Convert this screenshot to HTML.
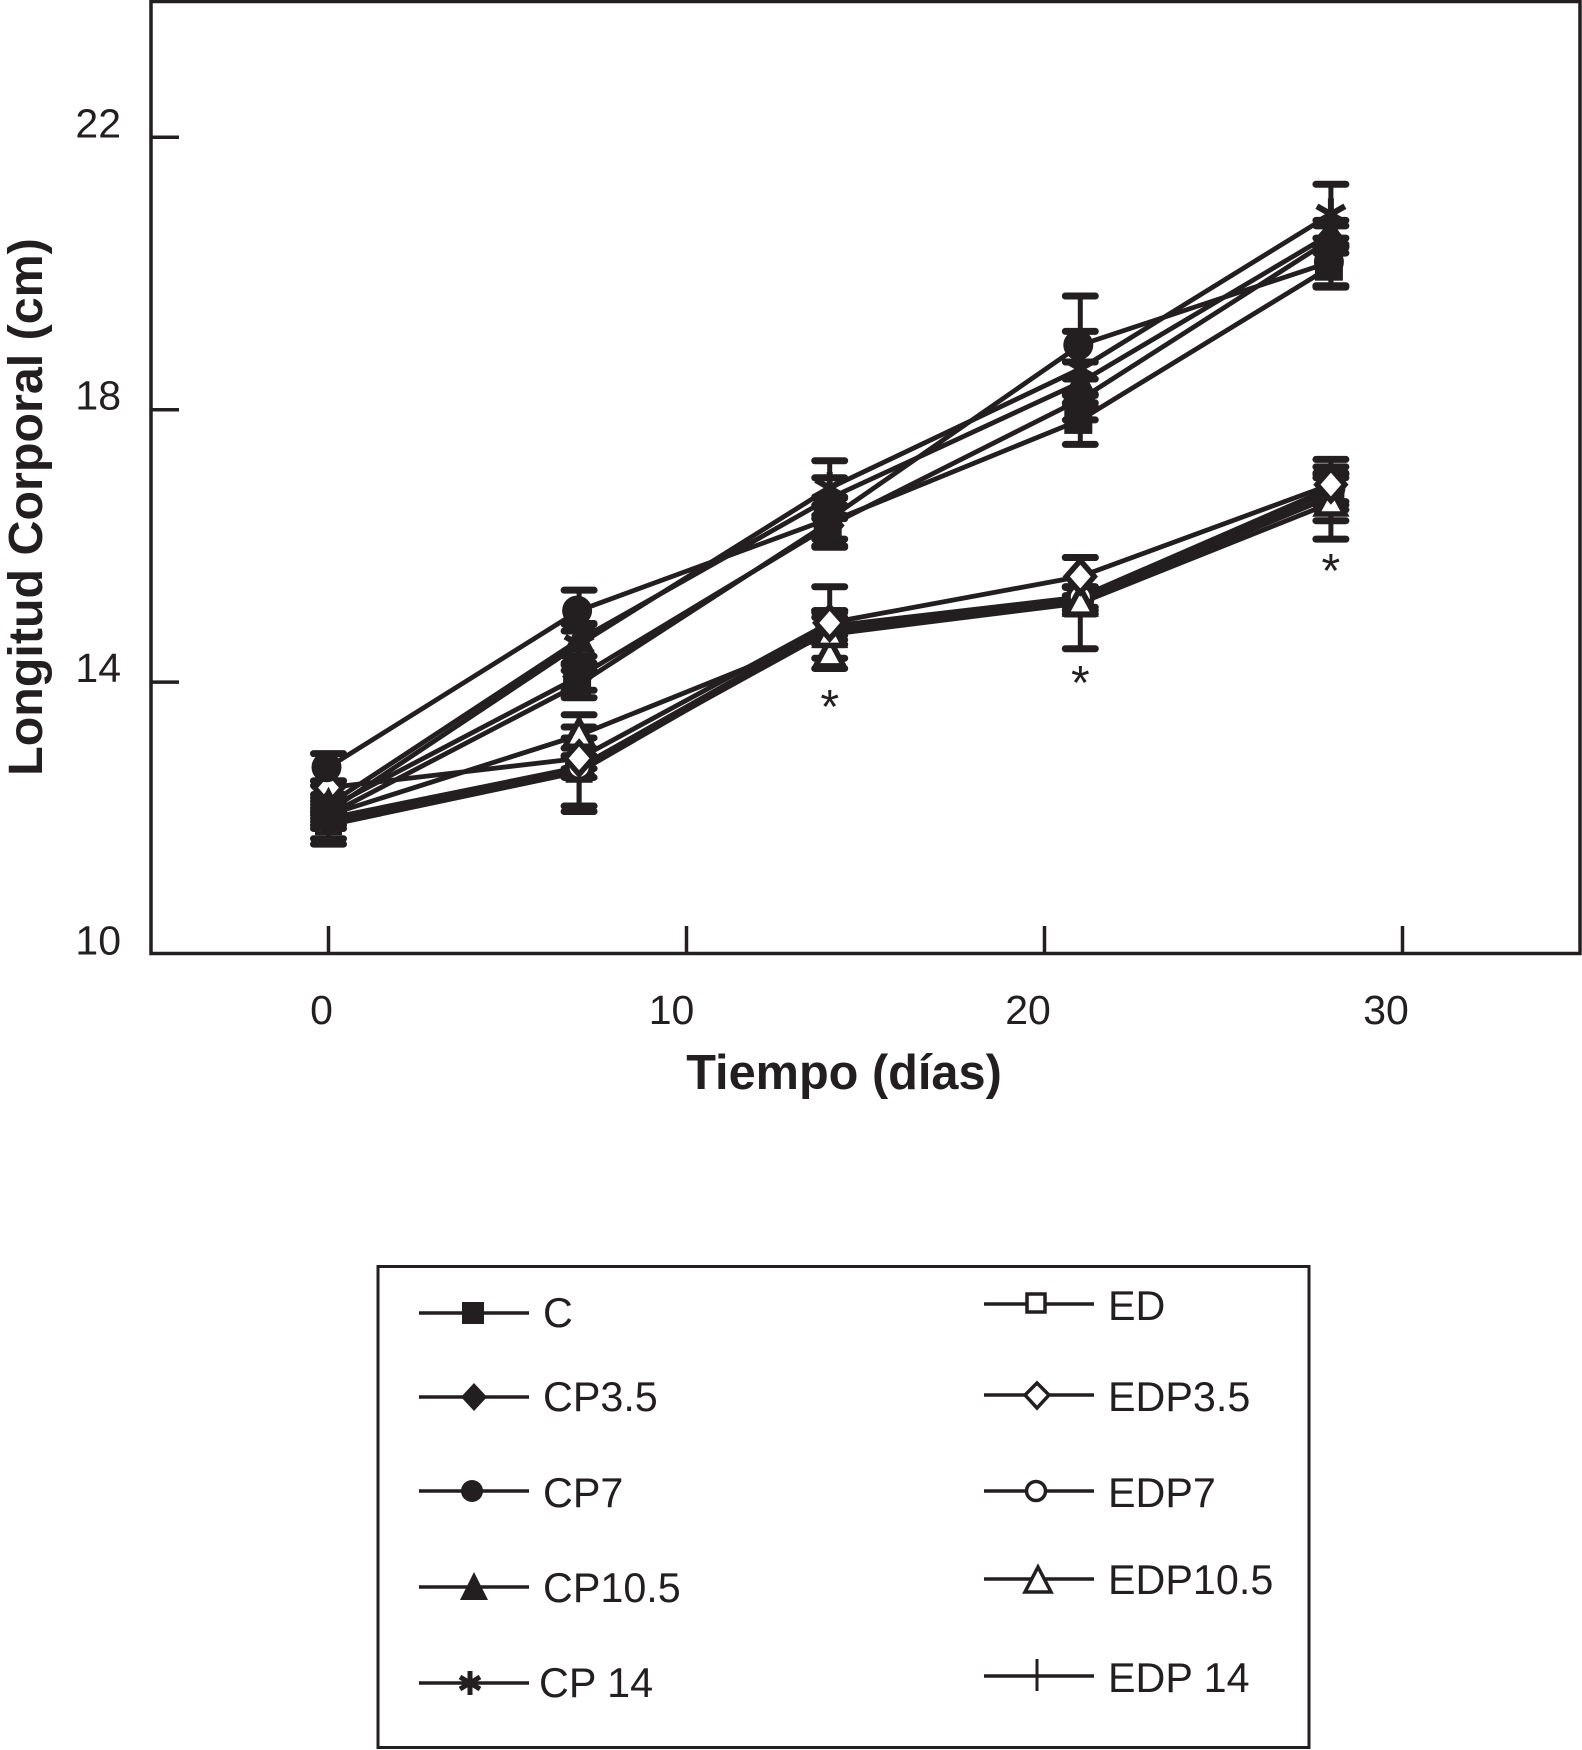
<!DOCTYPE html>
<html lang="es">
<head>
<meta charset="utf-8">
<title>Longitud corporal</title>
<style>
html,body{margin:0;padding:0;background:#fff;}
svg{display:block;}
text{font-family:"Liberation Sans",sans-serif;fill:#231f20;}
</style>
</head>
<body>
<svg id="chart" width="1582" height="1750" viewBox="0 0 1582 1750" xmlns="http://www.w3.org/2000/svg">
  <rect x="151" y="1.5" width="1429" height="952" fill="#fff" stroke="#231f20" stroke-width="3.5"/>
  <g id="ticks"></g>
  <g id="bars"></g>
  <g id="lines"></g>
  <g id="marks"></g>
  <g id="sig"></g>
  <text x="844" y="1089" text-anchor="middle" font-size="48.7" font-weight="bold">Tiempo (días)</text>
  <text transform="translate(42,507) rotate(-90)" text-anchor="middle" font-size="48.4" font-weight="bold">Longitud Corporal (cm)</text>

  <g stroke-linejoin="miter">
    <rect x="378" y="1266.5" width="931" height="481" fill="#fff" stroke="#231f20" stroke-width="3"/>

    <g>
      <line x1="419" y1="1313" x2="529" y2="1313" stroke="#231f20" stroke-width="3.5"/>
      <rect x="462" y="1302" width="22" height="22" fill="#231f20"/>
      <text x="543" y="1327" font-size="41.3">C</text>
    </g>
    <g>
      <line x1="419" y1="1397" x2="529" y2="1397" stroke="#231f20" stroke-width="3.5"/>
      <polygon points="474,1383 487,1397 474,1411 461,1397" fill="#231f20"/>
      <text x="543" y="1411" font-size="41.3">CP3.5</text>
    </g>
    <g>
      <line x1="419" y1="1491" x2="529" y2="1491" stroke="#231f20" stroke-width="3.5"/>
      <circle cx="472" cy="1491" r="11" fill="#231f20"/>
      <text x="543" y="1507" font-size="41.3">CP7</text>
    </g>
    <g>
      <line x1="419" y1="1587" x2="529" y2="1587" stroke="#231f20" stroke-width="3.5"/>
      <polygon points="474,1572 488,1600 460,1600" fill="#231f20"/>
      <text x="543" y="1602" font-size="41.3">CP10.5</text>
    </g>
    <g>
      <line x1="419" y1="1683" x2="529" y2="1683" stroke="#231f20" stroke-width="3.5"/>
      <g stroke="#231f20" stroke-width="5">
        <line x1="470" y1="1671" x2="470" y2="1695"/>
        <line x1="460" y1="1677" x2="480" y2="1689"/>
        <line x1="460" y1="1689" x2="480" y2="1677"/>
      </g>
      <text x="539" y="1697" font-size="41.3">CP 14</text>
    </g>

    <g>
      <line x1="984" y1="1304" x2="1094" y2="1304" stroke="#231f20" stroke-width="3.5"/>
      <rect x="1027" y="1294" width="18" height="18" fill="#fff" stroke="#231f20" stroke-width="3.5"/>
      <text x="1108" y="1320" font-size="41.3">ED</text>
    </g>
    <g>
      <line x1="984" y1="1395" x2="1094" y2="1395" stroke="#231f20" stroke-width="3.5"/>
      <polygon points="1037,1383 1049,1395 1037,1408 1025,1395" fill="#fff" stroke="#231f20" stroke-width="3.5"/>
      <text x="1108" y="1411" font-size="41.3">EDP3.5</text>
    </g>
    <g>
      <line x1="984" y1="1491" x2="1094" y2="1491" stroke="#231f20" stroke-width="3.5"/>
      <circle cx="1036" cy="1491" r="9.5" fill="#fff" stroke="#231f20" stroke-width="3.5"/>
      <text x="1108" y="1507" font-size="41.3">EDP7</text>
    </g>
    <g>
      <line x1="984" y1="1579" x2="1094" y2="1579" stroke="#231f20" stroke-width="3.5"/>
      <polygon points="1038,1567 1051,1592 1025,1592" fill="#fff" stroke="#231f20" stroke-width="3.5"/>
      <text x="1108" y="1594" font-size="41.3">EDP10.5</text>
    </g>
    <g>
      <line x1="984" y1="1676" x2="1094" y2="1676" stroke="#231f20" stroke-width="3.5"/>
      <line x1="1037" y1="1659" x2="1037" y2="1691" stroke="#231f20" stroke-width="3"/>
      <text x="1108" y="1692" font-size="41.3">EDP 14</text>
    </g>
  </g>
</svg>

<script>
const days = [0, 7, 14, 21, 28];
const xTicks = [0, 10, 20, 30];
const yTicks = [10, 14, 18, 22];

const edp14Values = [11.9, 12.68, 14.8, 15.2, 16.72];
const edValues = [11.95, 12.72, 14.75, 15.22, 16.8];
const edp7Values = [12.0, 12.75, 14.82, 15.25, 16.85];
const edp105Values = [12.05, 13.22, 14.7, 15.16, 16.63];
const edp35Values = [12.45, 12.88, 14.87, 15.55, 16.9];
const cp14Values = [12.1, 14.55, 16.85, 18.6, 20.87];
const cp105Values = [12.2, 14.62, 16.7, 18.4, 20.58];
const cp7Values = [12.75, 15.05, 16.4, 18.95, 20.17];
const cp35Values = [12.15, 14.08, 16.3, 18.15, 20.5];
const cValues = [12.05, 13.97, 16.35, 17.85, 20.1];

const secondTriangleDays = [7, 14];
const secondTriangleValues = [12.78, 14.4];

const edp14Errors = [0.2, 0.5, 0.6, 0.2, 0.35];
const edErrors = [0.1, 0.62, 0.2, 0.17, 0.2];
const edp7Errors = [0.1, 0.15, 0.2, 0.15, 0.2];
const edp105Errors = [0.1, 0.3, 0.35, 0.67, 0.53];
const edp35Errors = [0.1, 0.15, 0.18, 0.28, 0.37];
const cp14Errors = [0.1, 0.3, 0.4, 0.55, 0.44];
const cp105Errors = [0.1, 0.24, 0.3, 0.3, 0.2];
const cp7Errors = [0.2, 0.3, 0.3, 0.72, 0.35];
const cp35Errors = [0.1, 0.2, 0.3, 0.3, 0.2];
const cErrors = [0.43, 0.2, 0.37, 0.36, 0.3];

const sigDays = [14, 21, 28];
const sigValues = [13.4, 13.75, 15.4];

const INK = '#231f20';
const NS = 'http://www.w3.org/2000/svg';
function xScale(d) { return 328.5 + d * 35.8; }
function yScale(v) { return 954.5 - (v - 10) * 68.1; }
function make(tag, attrs, parent) {
  const el = document.createElementNS(NS, tag);
  for (const k in attrs) el.setAttribute(k, attrs[k]);
  parent.appendChild(el);
  return el;
}

const ticksG = document.getElementById('ticks');
xTicks.forEach(function (t) {
  const tick = make('line', { x1: xScale(t), x2: xScale(t), y1: 926, y2: 953, stroke: INK, 'stroke-width': 3.5 }, ticksG);
  
  
  const label = make('text', { x: xScale(t) - (t === 0 ? 7 : (t === 10 ? 15 : 16.5)), y: 1024, 'text-anchor': 'middle', 'font-size': 41 }, ticksG);
  
  
  label.textContent = t;
});
yTicks.forEach(function (t) {
  if (t !== 10) {
    const tick = make('line', { x1: 151, x2: 179, y1: yScale(t), y2: yScale(t), stroke: INK, 'stroke-width': 3.5 }, ticksG);
    
    
  }
  const label = make('text', { x: 121, y: yScale(t), 'text-anchor': 'end', 'font-size': 41 }, ticksG);
  
  
  label.textContent = t;
});

function drawMarker(kind, cx, cy, parent) {
  let m;
  if (kind === 'square') {
    m = make('rect', { x: cx - 16, y: cy - 14, width: 28, height: 28, fill: INK }, parent);
  } else if (kind === 'diamond') {
    m = make('polygon', { points: [cx - 1, cy - 18, cx + 15, cy, cx - 1, cy + 18, cx - 17, cy].join(' '), fill: INK }, parent);
  } else if (kind === 'circle') {
    m = make('circle', { cx: cx - 2, cy: cy, r: 15, fill: INK }, parent);
  } else if (kind === 'triangle') {
    m = make('polygon', { points: [cx, cy - 18, cx + 16, cy + 13, cx - 16, cy + 13].join(' '), fill: INK }, parent);
  } else if (kind === 'star') {
    m = make('g', { stroke: INK, 'stroke-width': 6 }, parent);
    make('line', { x1: cx, y1: cy - 16, x2: cx, y2: cy + 16 }, m);
    make('line', { x1: cx - 14, y1: cy - 8, x2: cx + 14, y2: cy + 8 }, m);
    make('line', { x1: cx - 14, y1: cy + 8, x2: cx + 14, y2: cy - 8 }, m);
  } else if (kind === 'open-square') {
    m = make('rect', { x: cx - 11, y: cy - 11, width: 22, height: 22, fill: '#fff', stroke: INK, 'stroke-width': 5 }, parent);
  } else if (kind === 'open-diamond') {
    m = make('polygon', { points: [cx, cy - 16, cx + 14, cy, cx, cy + 16, cx - 14, cy].join(' '), fill: '#fff', stroke: INK, 'stroke-width': 5.5 }, parent);
  } else if (kind === 'open-circle') {
    m = make('circle', { cx: cx, cy: cy, r: 12, fill: '#fff', stroke: INK, 'stroke-width': 5 }, parent);
  } else if (kind === 'open-triangle') {
    m = make('polygon', { points: [cx, cy - 15, cx + 14, cy + 11, cx - 14, cy + 11].join(' '), fill: '#fff', stroke: INK, 'stroke-width': 5.5 }, parent);
  } else {
    m = make('line', { x1: cx, y1: cy - 18, x2: cx, y2: cy + 18, stroke: INK, 'stroke-width': 4 }, parent);
  }
  return m;
}

const barsG = document.getElementById('bars');
const linesG = document.getElementById('lines');
const marksG = document.getElementById('marks');

function drawSeries(values, errors, kind, slug) {
  const pts = values.map(function (v, i) { return xScale(days[i]) + ',' + yScale(v); }).join(' ');
  const line = make('polyline', { points: pts, fill: 'none', stroke: INK, 'stroke-width': 4.8 }, linesG);
  
  
  values.forEach(function (v, i) {
    const cx = xScale(days[i]);
    const hi = yScale(v + errors[i]);
    const lo = yScale(v - errors[i]);
    const bar = make('g', { stroke: INK, 'stroke-linecap': 'round', fill: 'none' }, barsG);
    
    
    make('line', { x1: cx, x2: cx, y1: hi, y2: lo, 'stroke-width': 5 }, bar);
    make('line', { x1: cx - 15, x2: cx + 15, y1: hi, y2: hi, 'stroke-width': 7 }, bar);
    make('line', { x1: cx - 15, x2: cx + 15, y1: lo, y2: lo, 'stroke-width': 7 }, bar);
  });
  values.forEach(function (v, i) {
    const mark = drawMarker(kind, xScale(days[i]), yScale(v), marksG);
    
    
  });
}

secondTriangleValues.forEach(function (v, i) {
  const extra = drawMarker('open-triangle', xScale(secondTriangleDays[i]), yScale(v), marksG);
  
  
});

drawSeries(edp14Values, edp14Errors, 'plus', 'edp14');
drawSeries(edValues, edErrors, 'open-square', 'ed');
drawSeries(edp7Values, edp7Errors, 'open-circle', 'edp7');
drawSeries(edp105Values, edp105Errors, 'open-triangle', 'edp10-5');
drawSeries(edp35Values, edp35Errors, 'open-diamond', 'edp3-5');
drawSeries(cp14Values, cp14Errors, 'star', 'cp14');
drawSeries(cp105Values, cp105Errors, 'triangle', 'cp10-5');
drawSeries(cp7Values, cp7Errors, 'circle', 'cp7');
drawSeries(cp35Values, cp35Errors, 'diamond', 'cp3-5');
drawSeries(cValues, cErrors, 'square', 'c');

const sigG = document.getElementById('sig');
sigDays.forEach(function (d, i) {
  const star = make('text', { x: xScale(d), y: yScale(sigValues[i]), 'text-anchor': 'middle', 'font-size': 48 }, sigG);
  
  
  star.textContent = '*';
});
</script>
</body>
</html>
